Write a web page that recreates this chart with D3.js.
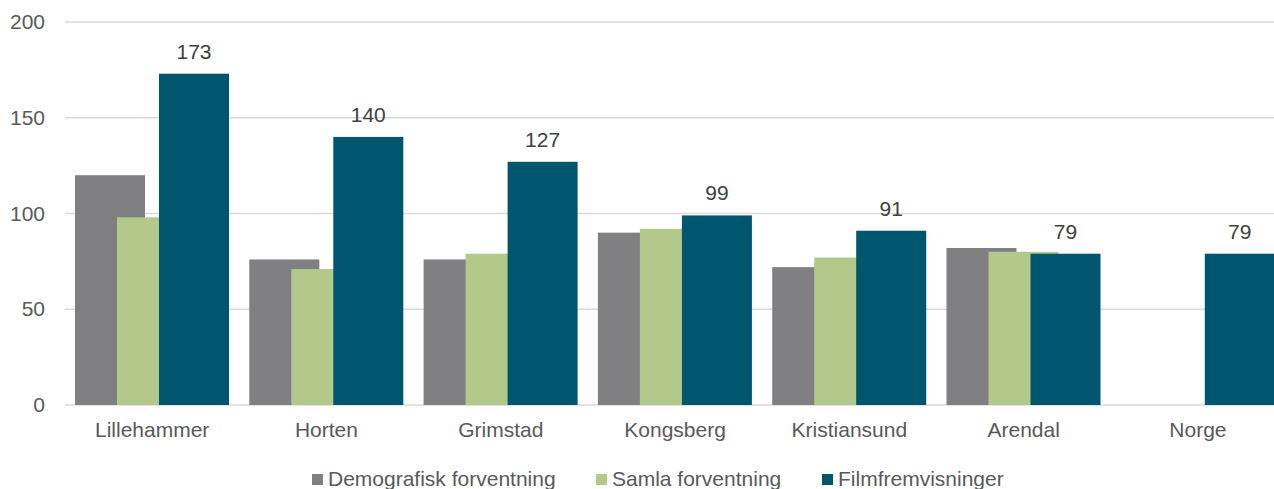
<!DOCTYPE html>
<html>
<head>
<meta charset="utf-8">
<script src="https://cdn.jsdelivr.net/npm/d3@7"></script>
<style>
  html, body { margin: 0; padding: 0; background: #fff; }
  svg { display: block; font-family: "Liberation Sans", Arial, sans-serif; }
</style>
</head>
<body>
<svg id="chart" width="1274" height="489"></svg>
<script>
const categories = ["Lillehammer", "Horten", "Grimstad", "Kongsberg", "Kristiansund", "Arendal", "Norge"];
const seriesNames = ["Demografisk forventning", "Samla forventning", "Filmfremvisninger"];
const demografisk = [120, 76, 76, 90, 72, 82, null];
const samla = [98, 71, 79, 92, 77, 80, null];
const filmfremvisninger = [173, 140, 127, 99, 91, 79, 79];
const yTicks = [0, 50, 100, 150, 200];
const colors = ["#808083", "#b2c98b", "#00566e"];

const seriesValues = [demografisk, samla, filmfremvisninger];

const svg = d3.select("#chart");
const W = 1274, H = 489;
const plotLeft = 65, step = 174.3;
const plotRight = plotLeft + step * categories.length;
const yTop = 22, yBottom = 405;
const textColor = "#595959";
const fontSize = "21px";

const x = d3.scaleBand().domain(categories).range([plotLeft, plotRight]).paddingInner(0).paddingOuter(0);
const barW = 70;
const sub = d3.scalePoint().domain(seriesNames).range([10, 94]);
const y = d3.scaleLinear().domain([0, 200]).range([yBottom, yTop]);

// gridlines
svg.append("g")
  .selectAll("line")
  .data(yTicks)
  .join("line")
  .attr("x1", plotLeft).attr("x2", W)
  .attr("y1", d => y(d)).attr("y2", d => y(d))
  .attr("stroke", "#d9d9d9").attr("stroke-width", 1.5);

// y axis labels
const yAxis = svg.append("g")
  .attr("transform", `translate(45,0)`)
  .call(d3.axisLeft(y).tickValues(yTicks).tickSize(0).tickPadding(0));
yAxis.select(".domain").remove();
yAxis.selectAll("text").attr("fill", textColor).style("font-size", fontSize).style("font-family", "'Liberation Sans', Arial, sans-serif");

// bars
seriesNames.forEach((s, si) => {
  const data = categories.map((c, i) => ({c, v: seriesValues[si][i]})).filter(d => d.v != null);
  svg.append("g")
    .selectAll("rect")
    .data(data)
    .join("rect")
    .attr("x", d => x(d.c) + sub(s))
    .attr("width", barW)
    .attr("y", d => y(d.v))
    .attr("height", d => y(0) - y(d.v))
    .attr("fill", colors[si]);
});

// data labels for Filmfremvisninger
svg.append("g")
  .selectAll("text")
  .data(categories.map((c, i) => ({c, v: filmfremvisninger[i]})))
  .join("text")
  .attr("x", d => x(d.c) + sub(seriesNames[2]) + barW / 2)
  .attr("y", d => y(d.v) - 15)
  .attr("text-anchor", "middle")
  .attr("fill", "#404040")
  .style("font-size", fontSize)
  .text(d => d.v);

// x axis labels
const xAxis = svg.append("g")
  .attr("transform", `translate(0,${yBottom})`)
  .call(d3.axisBottom(x).tickSize(0).tickPadding(0));
xAxis.select(".domain").remove();
xAxis.selectAll("text")
  .attr("y", 32).attr("dy", null)
  .attr("fill", textColor).style("font-size", fontSize)
  .style("font-family", "'Liberation Sans', Arial, sans-serif");

// legend
const legendX = [312, 596, 822];
const lg = svg.append("g");
seriesNames.forEach((s, i) => {
  lg.append("rect").attr("x", legendX[i]).attr("y", 474).attr("width", 11).attr("height", 11).attr("fill", colors[i]);
  lg.append("text").attr("x", legendX[i] + 16).attr("y", 486)
    .attr("fill", textColor).style("font-size", fontSize).text(s);
});
</script>
</body>
</html>
